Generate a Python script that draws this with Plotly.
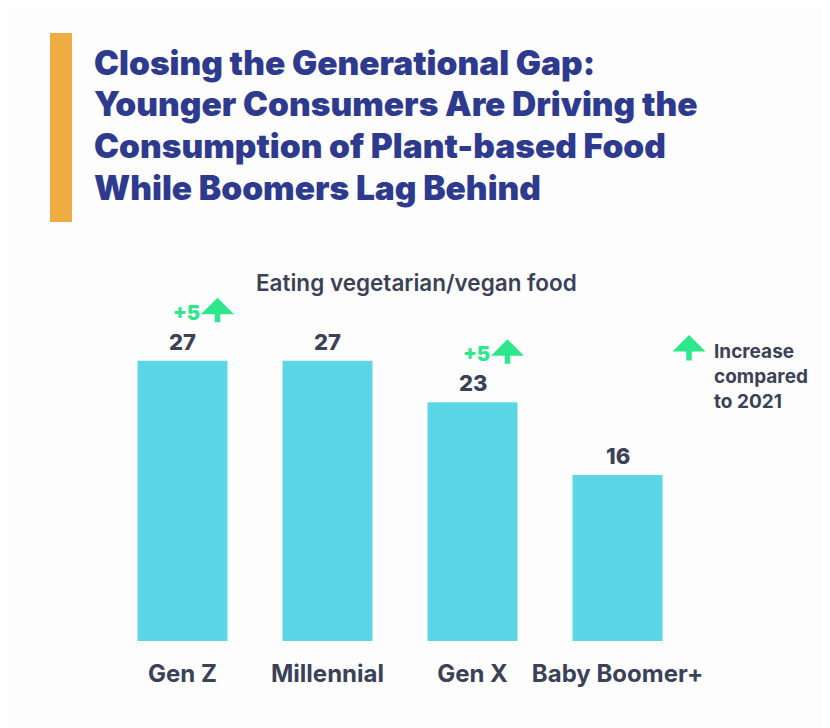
import plotly.graph_objects as go

categories = ["Gen Z", "Millennial", "Gen X", "Baby Boomer+"]
values = [27, 27, 23, 16]
increase = [5, None, 5, None]

title_lines = ["Closing the Generational Gap:",
               "Younger Consumers Are Driving the",
               "Consumption of Plant-based Food",
               "While Boomers Lag Behind"]
subtitle = "Eating vegetarian/vegan food"
legend_text = ["Increase", "compared", "to 2021"]

BAR = "#5bd6e6"
NAVY = "#2e3a8e"
DARK = "#3b4257"
GREEN = "#2ee68c"
ORANGE = "#f0ac44"
BG = "#fdfdfd"
FONT = "Inter"

# page has an 8px body margin; figure coords = page coords - 8
OFF = 8
W, H = 822, 720
L, R, T, B = 102, 140, 280, 87
pw, ph = W - L - R, H - T - B


def px_x(x):
    return (x - OFF - L) / pw


def px_y(y):
    return (H - B - (y - OFF)) / ph


fig = go.Figure()
fig.add_trace(go.Bar(x=categories, y=values, marker=dict(color=BAR, line=dict(width=0)),
                     hoverinfo="skip"))

# value labels
for c, v in zip(categories, values):
    fig.add_annotation(x=c, y=v, text=str(v), showarrow=False, yanchor="middle", yshift=19,
                       font=dict(family=FONT, size=22, color=DARK, weight=800))

# increase markers
for c, v, inc in zip(categories, values, increase):
    if inc is None:
        continue
    fig.add_annotation(x=c, y=v, text="+%d" % inc, showarrow=False, yanchor="middle",
                       xshift=4, yshift=48,
                       font=dict(family=FONT, size=20, color=GREEN, weight=900))
    fig.add_annotation(x=c, y=v, text="", showarrow=True, xshift=35, yshift=63,
                       ax=0, ay=26, arrowhead=1, arrowsize=1, arrowwidth=5.5,
                       arrowcolor=GREEN)

# title lines
for line, yc in zip(title_lines, [63, 104, 146, 188]):
    fig.add_annotation(xref="paper", yref="paper", x=px_x(92), y=px_y(yc), text=line,
                       showarrow=False, xanchor="left", yanchor="middle",
                       font=dict(family=FONT, size=33.5, color=NAVY, weight=900))

# subtitle
fig.add_annotation(xref="paper", yref="paper", x=px_x(416), y=px_y(282), text=subtitle,
                   showarrow=False, xanchor="center", yanchor="middle",
                   font=dict(family=FONT, size=22.5, color=DARK, weight=600))

# legend
for line, yc in zip(legend_text, [351, 376, 401]):
    fig.add_annotation(xref="paper", yref="paper", x=px_x(712), y=px_y(yc), text=line,
                       showarrow=False, xanchor="left", yanchor="middle",
                       font=dict(family=FONT, size=19, color=DARK, weight=700))
fig.add_annotation(xref="paper", yref="paper", x=px_x(689), y=px_y(335), text="",
                   showarrow=True, ax=0, ay=27, arrowhead=1, arrowsize=1, arrowwidth=5.5,
                   arrowcolor=GREEN)

# orange accent bar
fig.add_shape(type="rect", xref="paper", yref="paper", x0=px_x(50), x1=px_x(72),
              y0=px_y(222), y1=px_y(33), fillcolor=ORANGE, line=dict(width=0), layer="below")

fig.update_layout(
    width=W, height=H,
    margin=dict(l=L, r=R, t=T, b=B, pad=0),
    paper_bgcolor=BG, plot_bgcolor=BG,
    showlegend=False,
    bargap=0.38,
    xaxis=dict(showgrid=False, zeroline=False, showline=False, ticks="outside", ticklen=11,
               tickcolor="rgba(0,0,0,0)", tickfont=dict(family=FONT, size=24, color=DARK, weight=700),
               range=[-0.5, 3.5], fixedrange=True),
    yaxis=dict(visible=False, range=[0, 34], fixedrange=True),
)

fig.write_html("out.html")
